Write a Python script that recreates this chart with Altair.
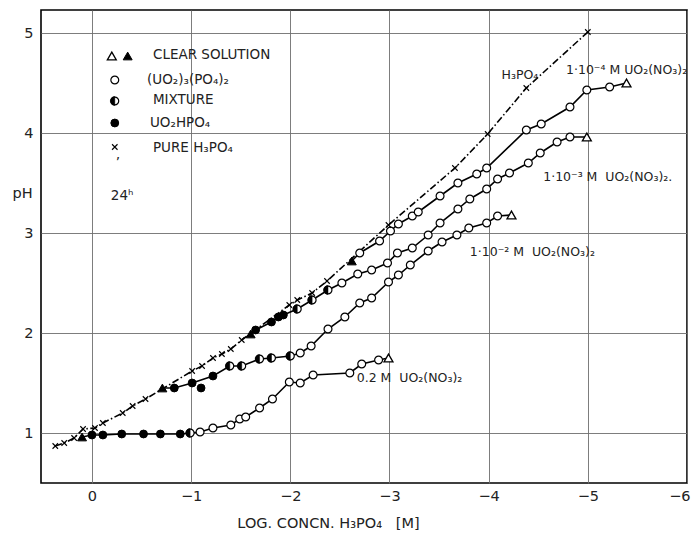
import altair as alt
import pandas as pd

# ---------------- data ----------------
# Pure H3PO4 (x markers, dash-dot line)
h3po4_x = [0.37, 0.28, 0.18, 0.09, -0.03, -0.11, -0.31, -0.41, -0.54, -1.01, -1.11, -1.22,
           -1.31, -1.40, -1.51, -1.99, -2.07, -2.22, -2.37, -2.99, -3.66, -3.99, -4.38, -5.00]
h3po4_y = [0.87, 0.90, 0.95, 1.04, 1.05, 1.10, 1.20, 1.27, 1.34, 1.62, 1.67, 1.75,
           1.79, 1.84, 1.93, 2.28, 2.33, 2.40, 2.52, 3.08, 3.65, 3.99, 4.45, 5.01]

# 0.2 M UO2(NO3)2
m02_x = [0.10, 0.00, -0.11, -0.30, -0.52, -0.69, -0.89, -0.99, -1.09, -1.22, -1.40, -1.49,
         -1.55, -1.69, -1.82, -1.99, -2.10, -2.23, -2.60, -2.72, -2.89, -2.99]
m02_y = [0.96, 0.98, 0.98, 0.99, 0.99, 0.99, 0.99, 1.00, 1.01, 1.05, 1.08, 1.14,
         1.16, 1.25, 1.34, 1.51, 1.50, 1.58, 1.60, 1.69, 1.73, 1.75]
m02_s = ["tri_fill", "circ_fill", "circ_fill", "circ_fill", "circ_fill", "circ_fill", "circ_fill",
         "circ_half", "circ_open", "circ_open", "circ_open", "circ_open", "circ_open", "circ_open",
         "circ_open", "circ_open", "circ_open", "circ_open", "circ_open", "circ_open", "circ_open",
         "tri_open"]

# 1e-2 M UO2(NO3)2
m2_x = [-0.71, -0.83, -1.01, -1.22, -1.39, -1.51, -1.69, -1.81, -2.00, -2.10, -2.21, -2.38,
        -2.55, -2.70, -2.82, -2.99, -3.09, -3.21, -3.39, -3.53, -3.68, -3.80, -3.98, -4.09, -4.23]
m2_y = [1.45, 1.45, 1.50, 1.57, 1.67, 1.67, 1.74, 1.75, 1.77, 1.80, 1.87, 2.04,
        2.16, 2.30, 2.35, 2.51, 2.58, 2.68, 2.82, 2.91, 2.98, 3.05, 3.10, 3.17, 3.18]
m2_s = ["tri_fill", "circ_fill", "circ_fill", "circ_fill", "circ_half", "circ_half", "circ_half",
        "circ_half", "circ_half"] + ["circ_open"] * 15 + ["tri_open"]
# isolated point below the 1e-2 curve
m2_extra_x = [-1.10]
m2_extra_y = [1.45]

# 1e-3 M UO2(NO3)2
m3_x = [-1.60, -1.65, -1.81, -1.88, -1.93, -2.07, -2.22, -2.38, -2.52, -2.68, -2.82, -2.98,
        -3.08, -3.23, -3.39, -3.51, -3.69, -3.81, -3.98, -4.09, -4.21, -4.40, -4.52, -4.69,
        -4.82, -4.99]
m3_y = [1.99, 2.03, 2.11, 2.16, 2.18, 2.24, 2.33, 2.43, 2.50, 2.59, 2.63, 2.70,
        2.80, 2.85, 2.98, 3.10, 3.24, 3.34, 3.44, 3.54, 3.60, 3.70, 3.80, 3.91,
        3.96, 3.96]
m3_s = ["tri_fill", "circ_fill", "circ_fill", "circ_fill", "circ_fill", "circ_half", "circ_half",
        "circ_half"] + ["circ_open"] * 17 + ["tri_open"]

# 1e-4 M UO2(NO3)2
m4_x = [-2.62, -2.70, -2.90, -3.01, -3.09, -3.23, -3.29, -3.51, -3.69, -3.88, -3.98,
        -4.38, -4.53, -4.82, -4.99, -5.22, -5.39]
m4_y = [2.72, 2.80, 2.92, 3.02, 3.09, 3.17, 3.21, 3.37, 3.50, 3.59, 3.65,
        4.03, 4.09, 4.26, 4.43, 4.46, 4.50]
m4_s = ["tri_fill"] + ["circ_open"] * 15 + ["tri_open"]

# legend symbols (drawn inside the plot)
leg_x = [-0.20, -0.36, -0.23, -0.23, -0.23, -0.23]
leg_y = [4.77, 4.77, 4.53, 4.32, 4.10, 3.86]
leg_s = ["tri_open", "tri_fill", "circ_open", "circ_half", "circ_fill", "cross"]

NB = "\u00a0"
# curve labels
lab_text = ["H₃PO₄", "1·10⁻⁴ M" + NB + "UO₂(NO₃)₂", "1·10⁻³ M" + NB + NB + "UO₂(NO₃)₂.",
            "1·10⁻² M" + NB + NB + "UO₂(NO₃)₂", "0.2 M" + NB + NB + "UO₂(NO₃)₂"]
lab_x = [-4.13, -4.78, -4.55, -3.81, -2.67]
lab_y = [4.58, 4.63, 3.56, 2.81, 1.55]

# legend texts
leg_text = ["CLEAR SOLUTION", "(UO₂)₃(PO₄)₂", "MIXTURE", "UO₂HPO₄", "PURE H₃PO₄", "’", "24ʰ"]
leg_tx = [-0.615, -0.555, -0.615, -0.585, -0.615, -0.24, -0.19]
leg_ty = [4.78, 4.53, 4.33, 4.10, 3.85, 3.70, 3.37]

x_ticks = [0, -1, -2, -3, -4, -5, -6]
y_ticks = [1, 2, 3, 4, 5]

# ---------------- build tables ----------------
rows = []
def add(series, xs, ys, syms, online):
    for i, (a, b, s) in enumerate(zip(xs, ys, syms)):
        rows.append(dict(series=series, x=a, y=b, sym=s, idx=i, online=online))

add("H3PO4", h3po4_x, h3po4_y, ["cross"] * len(h3po4_x), False)
add("0.2 M", m02_x, m02_y, m02_s, True)
add("1e-2 M", m2_x, m2_y, m2_s, True)
add("1e-2 extra", m2_extra_x, m2_extra_y, ["circ_fill"], False)
add("1e-3 M", m3_x, m3_y, m3_s, True)
add("1e-4 M", m4_x, m4_y, m4_s, True)
add("legend", leg_x, leg_y, leg_s, False)
df = pd.DataFrame(rows)
h3df = pd.DataFrame(dict(x=h3po4_x, y=h3po4_y, idx=list(range(len(h3po4_x)))))
labdf = pd.DataFrame(dict(x=lab_x, y=lab_y, text=lab_text))
legdf = pd.DataFrame(dict(x=leg_tx, y=leg_ty, text=leg_text))

FONT = "DejaVu Sans"
xscale = alt.Scale(domain=[-6.0, 0.514], reverse=True, nice=False, zero=False)
yscale = alt.Scale(domain=[0.5, 5.23], nice=False, zero=False)

X = alt.X("x:Q", scale=xscale,
          axis=alt.Axis(values=x_ticks, format="d",
                        title="LOG. CONCN. H₃PO₄" + NB + NB + NB + "[M]", ticks=False,
                        domain=False, grid=True, gridColor="#6e6e6e", gridWidth=0.9,
                        labelFontSize=14.5, labelFont=FONT, labelColor="#222", labelPadding=6,
                        labelFlush=1, labelFlushOffset=3, labelOverlap=False,
                        titleFont=FONT, titleFontSize=14.5, titleFontWeight="normal",
                        titleColor="#222", titleX=287, titleY=44, titleAlign="center",
                        titleBaseline="alphabetic"))
Y = alt.Y("y:Q", scale=yscale,
          axis=alt.Axis(values=y_ticks, format="d", title="pH", ticks=False, domain=False,
                        grid=True, gridColor="#6e6e6e", gridWidth=0.9, labelFontSize=14.5,
                        labelFont=FONT, labelColor="#222", labelPadding=8, titleFont=FONT,
                        titleFontSize=14.5, titleFontWeight="normal", titleColor="#222",
                        titleAngle=0, titleX=-19, titleY=183, titleAlign="center",
                        titleBaseline="middle"))

base = alt.Chart(df)

lines = base.transform_filter("datum.online").mark_line(
    color="black", strokeWidth=1.6).encode(x=X, y=Y, detail="series:N", order="idx:Q")

h3line = alt.Chart(h3df).mark_line(
    color="black", strokeWidth=1.6, strokeDash=[7, 2.5, 1.5, 2.5]).encode(
    x=alt.X("x:Q", scale=xscale), y=alt.Y("y:Q", scale=yscale), order="idx:Q")

def pts(sym, **kw):
    return base.transform_filter(alt.datum.sym == sym).mark_point(opacity=1, **kw).encode(
        x=alt.X("x:Q", scale=xscale), y=alt.Y("y:Q", scale=yscale))

HALF = "M0,-1A1,1 0 0,0 0,1Z"
CROSS = "M-1,-1L1,1M-1,1L1,-1"

p_open = pts("circ_open", shape="circle", size=62, filled=True, fill="white", stroke="black",
             strokeWidth=1.2, fillOpacity=1)
p_half_bg = pts("circ_half", shape="circle", size=62, filled=True, fill="white", stroke="black",
                strokeWidth=1.2, fillOpacity=1)
p_half = pts("circ_half", shape=HALF, size=79, filled=True, fill="black", stroke="black",
             strokeWidth=0.5, fillOpacity=1)
p_fill = pts("circ_fill", shape="circle", size=62, filled=True, fill="black", stroke="black",
             strokeWidth=1.0, fillOpacity=1)
p_tri_open = pts("tri_open", shape="triangle-up", size=80, filled=True, fill="white",
                 stroke="black", strokeWidth=1.3, fillOpacity=1)
p_tri_fill = pts("tri_fill", shape="triangle-up", size=80, filled=True, fill="black",
                 stroke="black", strokeWidth=1.0, fillOpacity=1)
p_cross = pts("cross", shape=CROSS, size=30, filled=False, stroke="black", strokeWidth=1.1)

labels = alt.Chart(labdf).mark_text(
    align="left", baseline="middle", font=FONT, fontSize=12.5, color="#222").encode(
    x=alt.X("x:Q", scale=xscale), y=alt.Y("y:Q", scale=yscale), text="text:N")

legtexts = alt.Chart(legdf).mark_text(
    align="left", baseline="middle", font=FONT, fontSize=13.5, color="#222").encode(
    x=alt.X("x:Q", scale=xscale), y=alt.Y("y:Q", scale=yscale), text="text:N")

chart = alt.layer(
    lines, h3line, p_open, p_half_bg, p_half, p_fill, p_tri_open, p_tri_fill, p_cross,
    labels, legtexts
).properties(
    width=646, height=473,
    padding={"left": 41, "top": 10, "right": 5, "bottom": 51},
    autosize=alt.AutoSizeParams(type="none"),
    background="white",
).configure_view(stroke="black", strokeWidth=1.6)

chart.save("out.html", embed_options={"renderer": "svg", "actions": False})
